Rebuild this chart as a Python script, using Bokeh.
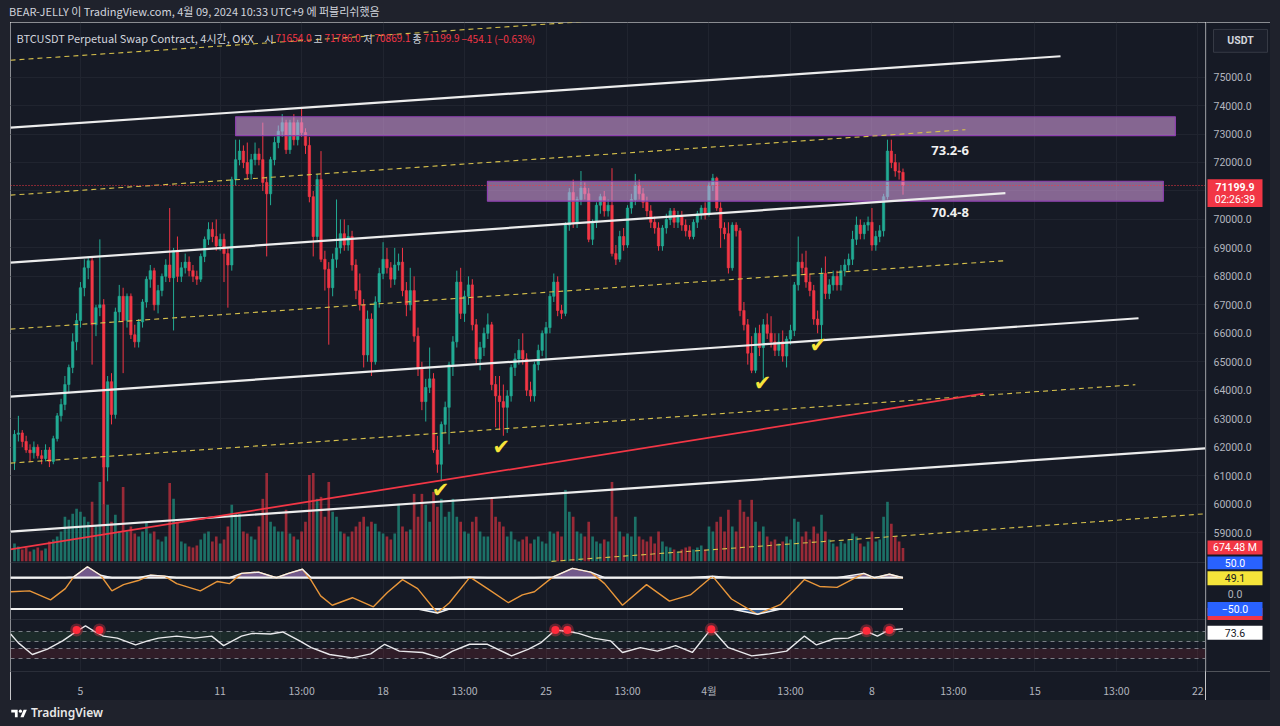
import numpy as np
from bokeh.plotting import figure
from bokeh.models import Range1d, FixedTicker, Label, Div, Spacer, Grid
from bokeh.layouts import column, row
from bokeh.core.properties import value
from bokeh.embed import file_html
from bokeh.resources import INLINE

# ---------------- data (4h candles, BTCUSDT perp, OKX) ----------------
opens = [61500, 62450, 62500, 62200, 61900, 61800, 62000, 61700, 61600, 61900,
         61500, 62300, 63100, 63500, 64200, 64800, 65700, 66450, 67600, 68300,
         68550, 66300, 66900, 67000, 61300, 64300, 63150, 66750, 67300, 66450,
         67300, 65950, 65700, 66400, 67100, 67900, 68200, 67000, 67500, 68000,
         68400, 67950, 68900, 68000, 68300, 68500, 68200, 68000, 67900, 68700,
         69300, 69650, 69400, 69070, 69300, 68800, 68400, 71400, 72100, 72400,
         72000, 71600, 72100, 72300, 72100, 71300, 70900, 72100, 72700, 73100,
         73400, 72450, 73400, 72800, 73400, 73050, 72600, 70800, 69400, 71400,
         68600, 68250, 67600, 68600, 69000, 69500, 69100, 69400, 68400, 67500,
         67000, 65240, 66500, 65000, 67100, 68100, 68600, 68300, 67900, 68400,
         68500, 67500, 67000, 67500, 65900, 64800, 63600, 64100, 64400, 61900,
         61400, 62800, 63400, 64900, 65700, 67800, 66700, 67300, 67700, 66300,
         65100, 65500, 66000, 66300, 64200, 63800, 63600, 63400, 63800, 64800,
         65100, 65400, 65100, 64000, 63800, 64900, 65400, 66000, 66200, 67300,
         67800, 66800, 66700, 69800, 70950, 69900, 70700, 71100, 70900, 69300,
         69900, 70500, 70800, 70300, 70500, 68800, 68600, 69400, 69100, 70400,
         70700, 71200, 70900, 70600, 70300, 69900, 69700, 69070, 69700, 70000,
         70300, 69900, 70100, 69800, 69600, 69400, 69900, 70200, 70400, 70200,
         71200, 71450, 70400, 69700, 69500, 68300, 69800, 69600, 66800, 66300,
         65300, 64700, 66000, 65500, 66300, 66000, 65700, 65400, 65700, 65200,
         65800, 66100, 67700, 68500, 68300, 67800, 67500, 66500, 66300, 68100,
         67400, 67700, 68000, 67700, 68200, 68400, 68600, 69300, 69800, 69500,
         69800, 69900, 69100, 69400, 69600, 70800, 72400, 72000, 71700, 71654.0]
highs = [62600, 63100, 62600, 62400, 62100, 62200, 62100, 61900, 62100, 62000,
         62400, 63200, 63700, 64500, 64900, 66000, 66700, 67800, 68600, 68700,
         68650, 67000, 69300, 67200, 64500, 64600, 66900, 67700, 67600, 67400,
         67400, 66300, 66500, 67200, 68000, 68400, 68300, 67700, 68100, 68600,
         70400, 69000, 69400, 68500, 68800, 68700, 68400, 68200, 68800, 69400,
         69900, 69900, 70000, 69500, 69500, 69000, 71500, 72800, 72800, 72600,
         72700, 72300, 72700, 72500, 73400, 71500, 72200, 72900, 73300, 73700,
         73500, 73500, 73700, 73500, 73900, 73200, 72900, 71000, 71600, 72400,
         68900, 68500, 68800, 70700, 70000, 70000, 69800, 69600, 68600, 68100,
         67200, 66800, 66700, 67300, 68300, 69200, 69000, 68500, 69000, 68800,
         69000, 67800, 68300, 68000, 66200, 65000, 64400, 65500, 64600, 62400,
         62900, 63600, 65000, 65900, 68200, 68300, 67500, 68000, 67900, 66500,
         65700, 66200, 66700, 66400, 64500, 64500, 64200, 64000, 64900, 65300,
         65800, 66000, 65300, 64300, 65000, 65600, 66100, 66400, 67400, 68100,
         68000, 67000, 69900, 71100, 71400, 70800, 71700, 71300, 71100, 70000,
         70600, 70900, 71000, 70700, 71800, 69100, 69600, 69700, 70500, 70900,
         71600, 71400, 71100, 70800, 70500, 70100, 69900, 69800, 70200, 70400,
         70400, 70300, 70300, 70000, 69800, 70000, 70300, 70500, 70600, 71300,
         71600, 71500, 70600, 69900, 69900, 69900, 69900, 69700, 67100, 66500,
         65900, 66200, 66300, 66500, 66700, 66600, 66000, 66000, 66100, 65900,
         66300, 67800, 69400, 68800, 68900, 68100, 67700, 66800, 68300, 68700,
         67900, 68200, 68200, 68400, 68600, 68800, 69600, 70100, 70000, 69900,
         70100, 70400, 69600, 69800, 70900, 72800, 72800, 72300, 72000, 71786.0]
lows = [61200, 62200, 62000, 61800, 61500, 61600, 61600, 61400, 61500, 61300,
        61400, 62200, 62900, 63300, 63900, 64600, 65400, 66200, 67300, 67900,
        64900, 65900, 66600, 60000, 60800, 62800, 63000, 66400, 64600, 66200,
        65800, 65500, 65500, 66200, 66900, 67600, 66800, 66700, 67300, 67800,
        67800, 66100, 67800, 67800, 68100, 68000, 67800, 67700, 67800, 68500,
        69100, 69200, 68900, 68900, 67800, 66900, 68200, 71200, 71900, 71800,
        71400, 71400, 71900, 71900, 71000, 68700, 70500, 71900, 72500, 72900,
        72300, 72300, 72600, 72600, 72900, 72300, 70600, 68700, 69200, 68500,
        67500, 65600, 67300, 68300, 68800, 68900, 68900, 68200, 67200, 66800,
        64800, 65000, 64500, 64900, 66900, 67900, 68100, 67600, 67700, 68200,
        67300, 66600, 66800, 65700, 64500, 63300, 62900, 63900, 61800, 61100,
        60800, 62500, 62100, 64500, 65500, 66500, 66400, 67000, 66100, 64900,
        64700, 65200, 65800, 64000, 62700, 62600, 62400, 62500, 63600, 64500,
        64900, 64900, 63800, 63600, 63600, 64700, 65200, 65100, 66000, 67100,
        66600, 66500, 66600, 69600, 69700, 69700, 70500, 70700, 69200, 69100,
        69700, 70200, 70100, 70100, 68700, 68400, 68500, 68900, 69000, 70200,
        70500, 70700, 70400, 70100, 69700, 69500, 68900, 68900, 69500, 69800,
        69700, 69700, 69600, 69400, 69300, 69300, 69700, 70000, 70000, 70100,
        71000, 70300, 69000, 69300, 68100, 68200, 69400, 66600, 66100, 64900,
        64600, 64600, 65200, 64400, 65800, 65500, 65200, 65200, 65000, 64800,
        65600, 65900, 67500, 68100, 67600, 67300, 66300, 66000, 65700, 67200,
        67200, 67500, 67500, 67500, 68000, 68200, 68400, 69100, 69300, 69300,
        69600, 68900, 68900, 69200, 69400, 70700, 71800, 71500, 71400, 70869.1]
closes = [62450, 62500, 62200, 61900, 61800, 62000, 61700, 61600, 61900, 61500,
          62300, 63100, 63500, 64200, 64800, 65700, 66450, 67600, 68300, 68550,
          66300, 66900, 67000, 61300, 64300, 63150, 66750, 67300, 66450, 67300,
          65950, 65700, 66400, 67100, 67900, 68200, 67000, 67500, 68000, 68400,
          67950, 68900, 68000, 68300, 68500, 68200, 68000, 67900, 68700, 69300,
          69650, 69400, 69070, 69300, 68800, 68400, 71400, 72100, 72400, 72000,
          71600, 72100, 72300, 72100, 71300, 70900, 72100, 72700, 73100, 73400,
          72450, 73400, 72800, 73400, 73050, 72600, 70800, 69400, 71400, 68600,
          68250, 67600, 68600, 69000, 69500, 69100, 69400, 68400, 67500, 67000,
          65240, 66500, 65000, 67100, 68100, 68600, 68300, 67900, 68400, 68500,
          67500, 67000, 67500, 65900, 64800, 63600, 64100, 64400, 61900, 61400,
          62800, 63400, 64900, 65700, 67800, 66700, 67300, 67700, 66300, 65100,
          65500, 66000, 66300, 64200, 63800, 63600, 63400, 63800, 64800, 65100,
          65400, 65100, 64000, 63800, 64900, 65400, 66000, 66200, 67300, 67800,
          66800, 66700, 69800, 70950, 69900, 70700, 71100, 70900, 69300, 69900,
          70500, 70800, 70300, 70500, 68800, 68600, 69400, 69100, 70400, 70700,
          71200, 70900, 70600, 70300, 69900, 69700, 69070, 69700, 70000, 70300,
          69900, 70100, 69800, 69600, 69400, 69900, 70200, 70400, 70200, 71200,
          71450, 70400, 69700, 69500, 68300, 69800, 69600, 66800, 66300, 65300,
          64700, 66000, 65500, 66300, 66000, 65700, 65400, 65700, 65200, 65800,
          66100, 67700, 68500, 68300, 67800, 67500, 66500, 66300, 68100, 67400,
          67700, 68000, 67700, 68200, 68400, 68600, 69300, 69800, 69500, 69800,
          69900, 69100, 69400, 69600, 70800, 72400, 72000, 71700, 71654, 71199.9]
volumes_m = [900, 750, 600, 700, 500, 600, 700, 550, 650, 1000,
             1100, 1250, 1500, 2250, 2100, 2400, 2650, 2500, 2250, 2000,
             3000, 1750, 4000, 4750, 2850, 2000, 2350, 1500, 3750, 1500,
             1750, 1400, 1250, 1500, 2000, 1400, 1500, 1100, 1000, 1250,
             3950, 3150, 2000, 1000, 900, 750, 700, 800, 1100, 1400,
             1500, 1000, 1250, 900, 1100, 1750, 2850, 2400, 2400, 1500,
             1400, 1250, 1100, 1750, 3150, 4450, 2000, 1750, 1500, 1500,
             2600, 1400, 1250, 1100, 1500, 2000, 4350, 4450, 3150, 3250,
             2250, 4000, 2500, 2250, 1500, 1400, 1250, 1500, 1750, 2000,
             2250, 1750, 2000, 1900, 1500, 1400, 1250, 1100, 1400, 2900,
             1750, 1500, 1600, 3400, 2250, 3400, 2850, 2000, 3500, 2750,
             3150, 2250, 2500, 3150, 2250, 2000, 1500, 1400, 2000, 2250,
             1500, 1250, 1250, 3150, 2250, 2000, 1750, 1250, 1500, 1100,
             1000, 1100, 1250, 900, 1100, 1250, 1000, 900, 1500, 1400,
             1500, 1250, 3600, 2500, 2250, 1500, 1400, 1250, 2000, 1250,
             1000, 900, 1100, 1000, 4000, 2250, 1500, 1250, 1400, 1250,
             2250, 1250, 1100, 1000, 1250, 900, 1500, 1000, 750, 700,
             600, 500, 600, 700, 750, 600, 700, 800, 600, 1750,
             1500, 2000, 2250, 1500, 2600, 1750, 1500, 3100, 2500, 2250,
             3100, 2000, 1500, 1750, 1250, 1000, 1100, 900, 1000, 1250,
             1100, 2150, 2000, 1250, 1500, 1100, 1750, 1400, 2350, 1500,
             1100, 900, 750, 1000, 900, 1100, 1400, 1250, 900, 750,
             1000, 1500, 1000, 1100, 2250, 3000, 1900, 1250, 1000, 674.48]

# oscillator (middle pane), read at candle positions
osc_i = [-1, 3.9, 9.3, 13.1, 15.2, 18.8, 22.2, 25.1, 28.1, 31.9, 35.1, 38.7, 41.8, 47.9, 52.3,
         55.4, 58.5, 62.9, 67.5, 70.6, 74.2, 76.5, 78.9, 81.9, 87.1, 92.5, 96.1, 100, 103.9, 109,
         112.1, 117.4, 121.9, 127.3, 130.9, 134, 138.7, 143.8, 148.5, 152.1, 156.7, 162.9, 168.8,
         174.2, 179.9, 184.8, 191.5, 197.5, 203.6, 207.5, 212, 218.9, 221.6, 225.5, 229]
osc_v = [5, 8, -21, 15, 52, 85, 58, 8, 28, 41, 58, 55, 31, 8, 38,
         31, 64, 68, 50, 64, 77, 41, -8, -38, -14, -43, 3, 44, 15, -63,
         -30, 52, 15, -30, -5, 5, 52, 80, 68, 31, -38, 28, -25,
         -5, 55, -18, -67, -35, 44, 22, 19, 64, 49, 61, 49.1]
osc_levels = [50, -50]

# RSI-type pane
rsi_i = [-1, 1, 4.6, 8.5, 12.4, 16, 18.3, 20.6, 22.9, 26.5, 31.2, 34.3, 37.1, 41.8, 46.4,
         50.8, 53.9, 58.5, 61.3, 66, 69.1, 73.5, 76.5, 81.2, 87.1, 91.8, 95.4, 99.2, 105.2, 109.8,
         112.9, 117.3, 121.9, 128.1, 132.5, 135.6, 139.4, 142.3, 145.4, 149.2, 153.6, 156.7, 161.3,
         165.7, 170.4, 174.7, 179.6, 184, 190, 194.6, 199, 203.6, 206.7, 211.1, 214.9, 219.6,
         222.4, 225.5, 229]
rsi_v = [66, 53, 36, 44, 56, 70, 78, 70, 63, 60, 50, 56, 60, 63, 60,
         63, 49, 63, 67, 66, 69, 56, 46, 36, 31, 37, 51, 41, 39, 31,
         41, 51, 51, 34, 44, 53, 72, 70, 67, 60, 56, 39, 46,
         41, 49, 39, 74, 46, 34, 37, 41, 63, 50, 59, 60, 70,
         63, 72, 73.6]
rsi_dot_i = [16, 21.9, 139.4, 142.5, 179.6, 219.6, 225.5]
rsi_dot_v = [72, 72, 72, 72, 73, 71, 72]
rsi_levels = [70, 55, 45, 30]

# drawings (candle index, price)
solid_x0 = [-1.03, -1.03, -1.03, -1.03]
solid_y0 = [73222, 68481, 63775, 59034]
solid_x1 = [269.6, 255.4, 289.7, 307.0]
solid_y1 = [75732, 70921, 66529, 61962]
dash_x0 = [-1.03, -1.03, -1.03, -1.03, 138.4]
dash_y0 = [75593, 70852, 66146, 61439, 57988]
dash_x1 = [151.0, 245.1, 255.4, 288.9, 307.0]
dash_y1 = [76987, 73152, 68551, 64193, 59662]
red_x0, red_y0, red_x1, red_y1 = [-1.03], [58407], [249.7], [63880]
zone_left = [57.0, 121.9]
zone_right = [299.2, 296.1]
zone_top = [73606, 71340]
zone_bottom = [72943, 70642]
zone_text = ["73.2-6", "70.4-8"]
zone_text_i = [236.3, 236.3]
zone_text_p = [72420, 70260]
check_i = [109.8, 125.5, 192.8, 207.2]
check_p = [60500, 62000, 64260, 65590]

price_ticks = list(range(59000, 75001, 1000))
xtick_i = [17, 53, 74, 95, 116, 137, 158, 179, 200, 221, 242, 263, 284, 305]
xtick_lbl = ["5", "11", "13:00", "18", "13:00", "25", "13:00", "4월", "13:00", "8",
             "13:00", "15", "13:00", "22"]

# ---------------- styling / layout ----------------
BG = "#161a25"
BG2 = "#1f222c"
UP = "#22ab94"
DN = "#f23645"
TXT = "#b2b5be"
KR = "Noto Sans CJK KR"

PH = 678                    # chart panel height
FL, FT = 10, 22             # panel offset in window
FRAME_R, FRAME_B = 1205, 676
frame_w = FRAME_R - FL      # 1195
frame_h = FRAME_B - FT      # 654
AXIS_W = 65
X0, X1 = -1.03, 306.97


def rng(va, ya, vb, yb):
    k = (va - vb) / (yb - ya)
    return Range1d(vb - (FRAME_B - yb) * k, va + (ya - FT) * k)


price_rng = rng(75000, 77, 59000, 536)
vol_rng = rng(5000, 465, 0, 565)
osc_rng = rng(50, 581.5, -50, 613)
rsi_rng = rng(70, 635.5, 30, 663)


def gx(px):
    return X0 + (px - FL) * (X1 - X0) / frame_w


def gy(py):
    return price_rng.end - (py - FT) * (price_rng.end - price_rng.start) / frame_h


o = np.array(opens, float)
h = np.array(highs, float)
l = np.array(lows, float)
c = np.array(closes, float)
n = len(c)
idx = np.arange(n)
colors = np.where(c >= o, UP, DN).tolist()

p = figure(width=frame_w, height=PH, title=None, x_range=Range1d(X0, X1), y_range=price_rng,
           y_axis_location=None, output_backend="svg", toolbar_location=None,
           min_border_left=0, min_border_top=0, min_border_right=0,
           min_border_bottom=PH - frame_h, background_fill_color=BG, border_fill_color=BG,
           outline_line_color=None, margin=(0, 0, 0, 0))
p.extra_y_ranges = {"vol": vol_rng, "osc": osc_rng, "rsi": rsi_rng}

xa = p.xaxis[0]
xa.ticker = FixedTicker(ticks=xtick_i)
xa.major_label_overrides = {t: s for t, s in zip(xtick_i, xtick_lbl)}
xa.major_label_text_color = TXT
xa.major_label_text_font = KR
xa.major_label_text_font_size = "10.5px"
xa.major_tick_line_color = None
xa.minor_tick_line_color = None
xa.axis_line_color = "#2a2e39"
xa.major_label_standoff = 5
p.xgrid.grid_line_color = "#20242f"
p.add_layout(Grid(dimension=1, ticker=FixedTicker(ticks=price_ticks), grid_line_color="#20242f"))
for g in p.ygrid:
    g.ticker = FixedTicker(ticks=price_ticks)
    g.grid_line_color = "#20242f"

# ---- RSI pane
p.hstrip(y0=[55], y1=[70], fill_color="#4caf50", fill_alpha=0.12, line_color=None, y_range_name="rsi")
p.hstrip(y0=[30], y1=[45], fill_color="#f23645", fill_alpha=0.12, line_color=None, y_range_name="rsi")
p.hspan(y=rsi_levels, line_color="#a3a6af", line_alpha=0.7, line_dash="4 4", line_width=1, y_range_name="rsi")
p.line(rsi_i, rsi_v, line_color="#e9e9ec", line_width=1.4, y_range_name="rsi")
p.scatter(rsi_dot_i, rsi_dot_v, size=13, fill_color=DN, fill_alpha=0.35, line_color=None, y_range_name="rsi")
p.scatter(rsi_dot_i, rsi_dot_v, size=8, fill_color="#ff2a3a", line_color=None, y_range_name="rsi")

# ---- oscillator pane
ov = np.array(osc_v, float)
p.varea(x=osc_i, y1=[50] * len(osc_i), y2=np.maximum(ov, 50), fill_color="#b085d0", fill_alpha=0.6, y_range_name="osc")
p.varea(x=osc_i, y1=np.minimum(ov, -50), y2=[-50] * len(osc_i), fill_color="#4a8fe8", fill_alpha=0.55, y_range_name="osc")
for lv in osc_levels:
    p.line([osc_i[0], osc_i[-1]], [lv, lv], line_color="#f2f2f2", line_width=2.2, y_range_name="osc")
p.line(osc_i, osc_v, line_color="#e8963a", line_width=1.4, y_range_name="osc")
p.line(osc_i, np.maximum(ov, 50), line_color="#f2f2f2", line_width=1.4, y_range_name="osc")
p.line(osc_i, np.minimum(ov, -50), line_color="#f2f2f2", line_width=1.4, y_range_name="osc")

# pane separators
p.hspan(y=[-50], line_color="#2a2e39", line_width=1, y_range_name="vol")
p.hspan(y=[86.7], line_color="#2a2e39", line_width=1, y_range_name="rsi")

# ---- volume
p.vbar(x=idx, width=0.68, top=volumes_m, bottom=0, fill_color=colors, fill_alpha=0.6,
       line_color=None, y_range_name="vol")

# ---- candles
p.segment(idx, h, idx, l, line_color=colors, line_width=1)
p.vbar(x=idx, width=0.62, top=np.maximum(o, c), bottom=np.minimum(o, c),
       fill_color=colors, line_color=colors, line_width=0.6)

# ---- zones
p.quad(left=zone_left, right=zone_right, top=zone_top, bottom=zone_bottom,
       fill_color="#d59ee0", fill_alpha=0.58, line_color="#8e3fb0", line_width=1.2)

# ---- channel drawings
p.segment(dash_x0, dash_y0, dash_x1, dash_y1, line_color="#d8c24c", line_width=1.1, line_dash="5 4")
p.segment(solid_x0, solid_y0, solid_x1, solid_y1, line_color="#ececec", line_width=2.2)
p.segment(red_x0, red_y0, red_x1, red_y1, line_color="#f23645", line_width=1.7)

# last price line
p.hspan(y=[closes[-1]], line_color=DN, line_dash="1 2", line_width=1)

# checkmarks
p.text(check_i, check_p, text=["✔"] * len(check_i), text_color="#f7e43a",
       text_font=value("DejaVu Sans"), text_font_size="21px", text_align="center",
       text_baseline="middle")

# zone labels
p.text(zone_text_i, zone_text_p, text=zone_text, text_color="#f0f0f0",
       text_font=value("Noto Sans"), text_font_size="13px", text_font_style="bold",
       text_align="left", text_baseline="middle")


def legend(text, px, col, size):
    p.add_layout(Label(x=gx(px), y=gy(38), text=text, text_color=col, text_font_size=size,
                       text_font=KR, text_align="left", text_baseline="middle"))


legend("BTCUSDT Perpetual Swap Contract, 4시간, OKX", 16, "#d1d4dc", "11px")
for t, xx, col in [("시", 264, "#d1d4dc"), ("71654.0", 275, DN), ("고", 313, "#d1d4dc"),
                   ("71786.0", 324, DN), ("저", 363, "#d1d4dc"), ("70869.1", 374, DN),
                   ("종", 412, "#d1d4dc"), ("71199.9", 423, DN), ("−454.1 (−0.63%)", 461, DN)]:
    legend(t, xx, col, "10px")

# ---------------- right price scale (separate narrow panel) ----------------
s = figure(width=AXIS_W, height=PH, title=None, x_range=Range1d(0, AXIS_W), y_range=price_rng,
           x_axis_location=None, y_axis_location=None, output_backend="svg", toolbar_location=None,
           min_border_left=0, min_border_top=0, min_border_right=0,
           min_border_bottom=PH - frame_h, background_fill_color=BG, border_fill_color=BG,
           outline_line_color=None, margin=(0, 0, 0, 0))
s.grid.visible = False
s.vspan(x=[0.5], line_color="#2a2e39", line_width=1)
s.text(x=[8] * len(price_ticks), y=price_ticks, text=[f"{t:.1f}" for t in price_ticks],
       text_color=TXT, text_font=value("Roboto"), text_font_size="10.5px",
       text_align="left", text_baseline="middle")


def box(top_px, bot_px, fill, line=None, left=2, right=57):
    s.quad(left=[left], right=[right], top=[gy(top_px)], bottom=[gy(bot_px)],
           fill_color=fill, line_color=line, line_width=1)


def tag(t, cy_px, col, bold=False, cx=29.5):
    s.text(x=[cx], y=[gy(cy_px)], text=[t], text_color=col, text_font=value("Roboto"),
           text_font_size="10.5px", text_font_style="bold" if bold else "normal",
           text_align="center", text_baseline="middle")


box(29, 52, "#1b1f2b", line="#363a45", left=8, right=62)
tag("USDT", 40.5, "#d1d4dc", bold=True, cx=35)
box(180, 208, DN)
tag(f"{closes[-1]:.1f}", 187.5, "#ffffff", bold=True)
tag("02:26:39", 200.5, "#ffffff")
box(560, 573, "#2962ff")
tag("50.0", 567, "#ffffff")
box(544, 558, DN)
tag(f"{volumes_m[-1]:.2f} M", 551, "#ffffff")
box(575, 589, "#f5e43a")
tag(f"{osc_v[-1]:.1f}", 582, "#131722")
tag("0.0", 598, TXT)
box(612, 624, DN)
box(606, 620, "#2962ff")
tag("−50.0", 613, "#ffffff")
box(630, 644, "#ffffff")
tag(f"{rsi_v[-1]:.1f}", 637, "#131722")

# ---------------- page ----------------
header = Div(text=("<div style=\"height:22px;line-height:22px;padding-left:9px;white-space:nowrap;"
                   "font-family:'Noto Sans CJK KR',sans-serif;font-size:11px;color:#d1d4dc;\">"
                   "BEAR-JELLY 이 TradingView.com, 4월 09, 2024 10:33 UTC+9 에 퍼블리쉬했음</div>"),
             width=1280, height=22, margin=(0, 0, 0, 0), styles={"background-color": BG2})
footer = Div(text=("<div style=\"height:26px;display:flex;align-items:center;padding-left:11px;"
                   "font-family:'Noto Sans',sans-serif;font-size:12px;font-weight:600;color:#e8e8e8;\">"
                   "<svg width='17' height='11' viewBox='0 0 36 24'>"
                   "<path d='M14 20H8V10H0V4h14z' fill='#ffffff'/><circle cx='20' cy='7' r='3.5' fill='#ffffff'/>"
                   "<path d='M27 20h-7l7-16h7z' fill='#ffffff'/></svg>"
                   "<span style='margin-left:3px'>TradingView</span></div>"),
             width=1280, height=26, margin=(0, 0, 0, 0), styles={"background-color": BG2})
sp_l = Spacer(width=FL, height=PH, margin=(0, 0, 0, 0), styles={"background-color": BG2})
sp_r = Spacer(width=1280 - FL - frame_w - AXIS_W, height=PH, margin=(0, 0, 0, 0),
              styles={"background-color": BG2})

layout = column(header, row(sp_l, p, s, sp_r), footer)
open("out.html", "w").write(file_html(layout, INLINE))
